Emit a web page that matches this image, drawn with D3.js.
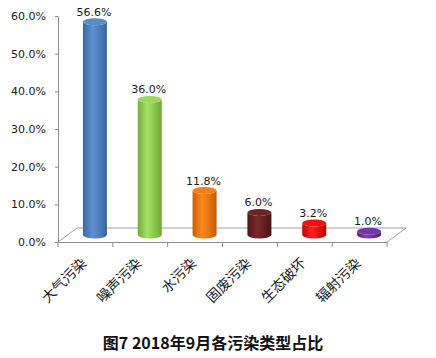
<!doctype html>
<html>
	<head>
		<meta charset="utf-8">
		<style type="text/css">
			body { margin: 0; background: #fff; }
		</style>
		<script src="https://d3js.org/d3.v7.min.js"></script>
	</head>
	<body>
		<svg width="436" height="358"></svg>
		<script type="text/javascript">

			var categories = ["大气污染", "噪声污染", "水污染", "固废污染", "生态破坏", "辐射污染"];
			var values = [56.6, 36.0, 11.8, 6.0, 3.2, 1.0];
			var colors = [
				["#3b679f", "#5e92d4", "#3a659c"],
				["#72ad36", "#a6e264", "#6fa834"],
				["#c85e06", "#ff8a1c", "#c45c06"],
				["#4d1414", "#7a2a2a", "#4a1313"],
				["#c40000", "#ff2020", "#c00000"],
				["#52207a", "#8040b4", "#4f1f76"]
			];
			var tops = ["#5a8ccb", "#9ad85a", "#f5801a", "#6e2424", "#f01010", "#7436a6"];
			var yTicks = [0, 10, 20, 30, 40, 50, 60];
			var title = "图7 2018年9月各污染类型占比";

			var svg = d3.select("svg");
			var x0 = 58, x1 = 387, y0 = 242, y1 = 16;
			var depthX = 19, depthY = -14;

			var x = d3.scaleBand().domain(categories).range([x0, x1]);
			var y = d3.scaleLinear().domain([0, 60]).range([y0, y1]);

			// gradients
			var defs = svg.append("defs");
			colors.forEach(function(c, i) {
				var g = defs.append("linearGradient")
					.attr("id", "cyl" + i)
					.attr("x1", "0%").attr("x2", "100%").attr("y1", "0%").attr("y2", "0%");
				g.append("stop").attr("offset", "0%").attr("stop-color", c[0]);
				g.append("stop").attr("offset", "40%").attr("stop-color", c[1]);
				g.append("stop").attr("offset", "100%").attr("stop-color", c[2]);
			});

			// floor
			var floor = svg.append("g")
				.style("stroke", "#a0a0a0")
				.style("fill", "none")
				.style("stroke-width", 1);
			floor.append("path")
				.attr("d", `M${x0},${y0}L${x0 + depthX},${y0 + depthY}L${x1 + depthX},${y0 + depthY}L${x1},${y0}`);

			// y axis
			var yAxis = svg.append("g")
				.attr("transform", `translate(${x0},0)`)
				.call(d3.axisLeft(y).tickValues(yTicks).tickSize(3).tickSizeOuter(0)
					.tickFormat((d) => d.toFixed(1) + "%"));
			yAxis.select(".domain").attr("stroke", "#8c8c8c");
			yAxis.selectAll(".tick line").attr("stroke", "#8c8c8c");
			yAxis.selectAll("text")
				.attr("x", -12)
				.style("font-family", "DejaVu Sans, Verdana, sans-serif")
				.style("font-size", "11px")
				.style("fill", "#1a1a1a");

			// x axis
			var xAxis = svg.append("g")
				.attr("transform", `translate(0,${y0})`)
				.call(d3.axisBottom(x).tickSize(0).tickFormat(""));
			xAxis.select(".domain").attr("stroke", "#8c8c8c");
			xAxis.selectAll(".sep")
				.data(d3.range(categories.length + 1)).enter()
				.append("line")
					.attr("x1", (d) => x0 + d * x.bandwidth())
					.attr("x2", (d) => x0 + d * x.bandwidth())
					.attr("y1", 0).attr("y2", 5)
					.attr("stroke", "#8c8c8c");

			// cylinders
			var rx = 12, ry = 3.5;
			var bars = svg.append("g").selectAll("g")
				.data(values).enter()
				.append("g")
					.attr("transform", (d, i) => `translate(${x(categories[i]) + x.bandwidth() / 2 + depthX / 2},${depthY / 2})`);
			bars.append("path")
				.attr("d", (d) => {
					var yt = y(d), yb = y(0);
					return `M${-rx},${yt}L${-rx},${yb}A${rx},${ry} 0 0 0 ${rx},${yb}L${rx},${yt}A${rx},${ry} 0 0 1 ${-rx},${yt}Z`;
				})
				.style("fill", (d, i) => `url(#cyl${i})`);
			bars.append("ellipse")
				.attr("cx", 0)
				.attr("cy", (d) => y(d))
				.attr("rx", rx)
				.attr("ry", ry)
				.style("fill", (d, i) => tops[i]);
			bars.append("text")
				.text((d) => d.toFixed(1) + "%")
				.attr("x", -1)
				.attr("y", (d) => y(d) - 6)
				.style("text-anchor", "middle")
				.style("font-family", "DejaVu Sans, Verdana, sans-serif")
				.style("font-size", "11px")
				.style("fill", "#1a1a1a");

			// category labels
			svg.append("g").selectAll("text")
				.data(categories).enter()
				.append("text")
					.text((d) => d)
					.attr("transform", (d) => `translate(${x(d) + x.bandwidth() / 2 + 2},${y0 + 22}) rotate(-45)`)
					.style("text-anchor", "end")
					.style("font-family", "Noto Sans CJK SC, sans-serif")
					.style("font-size", "14px")
					.style("fill", "#1a1a1a");

			// title
			svg.append("text")
				.text(title)
				.attr("x", 213)
				.attr("y", 349)
				.style("text-anchor", "middle")
				.style("font-family", "Noto Sans CJK SC, sans-serif")
				.style("font-weight", "bold")
				.style("font-size", "16px")
				.style("fill", "#111");
		</script>
	</body>
</html>
